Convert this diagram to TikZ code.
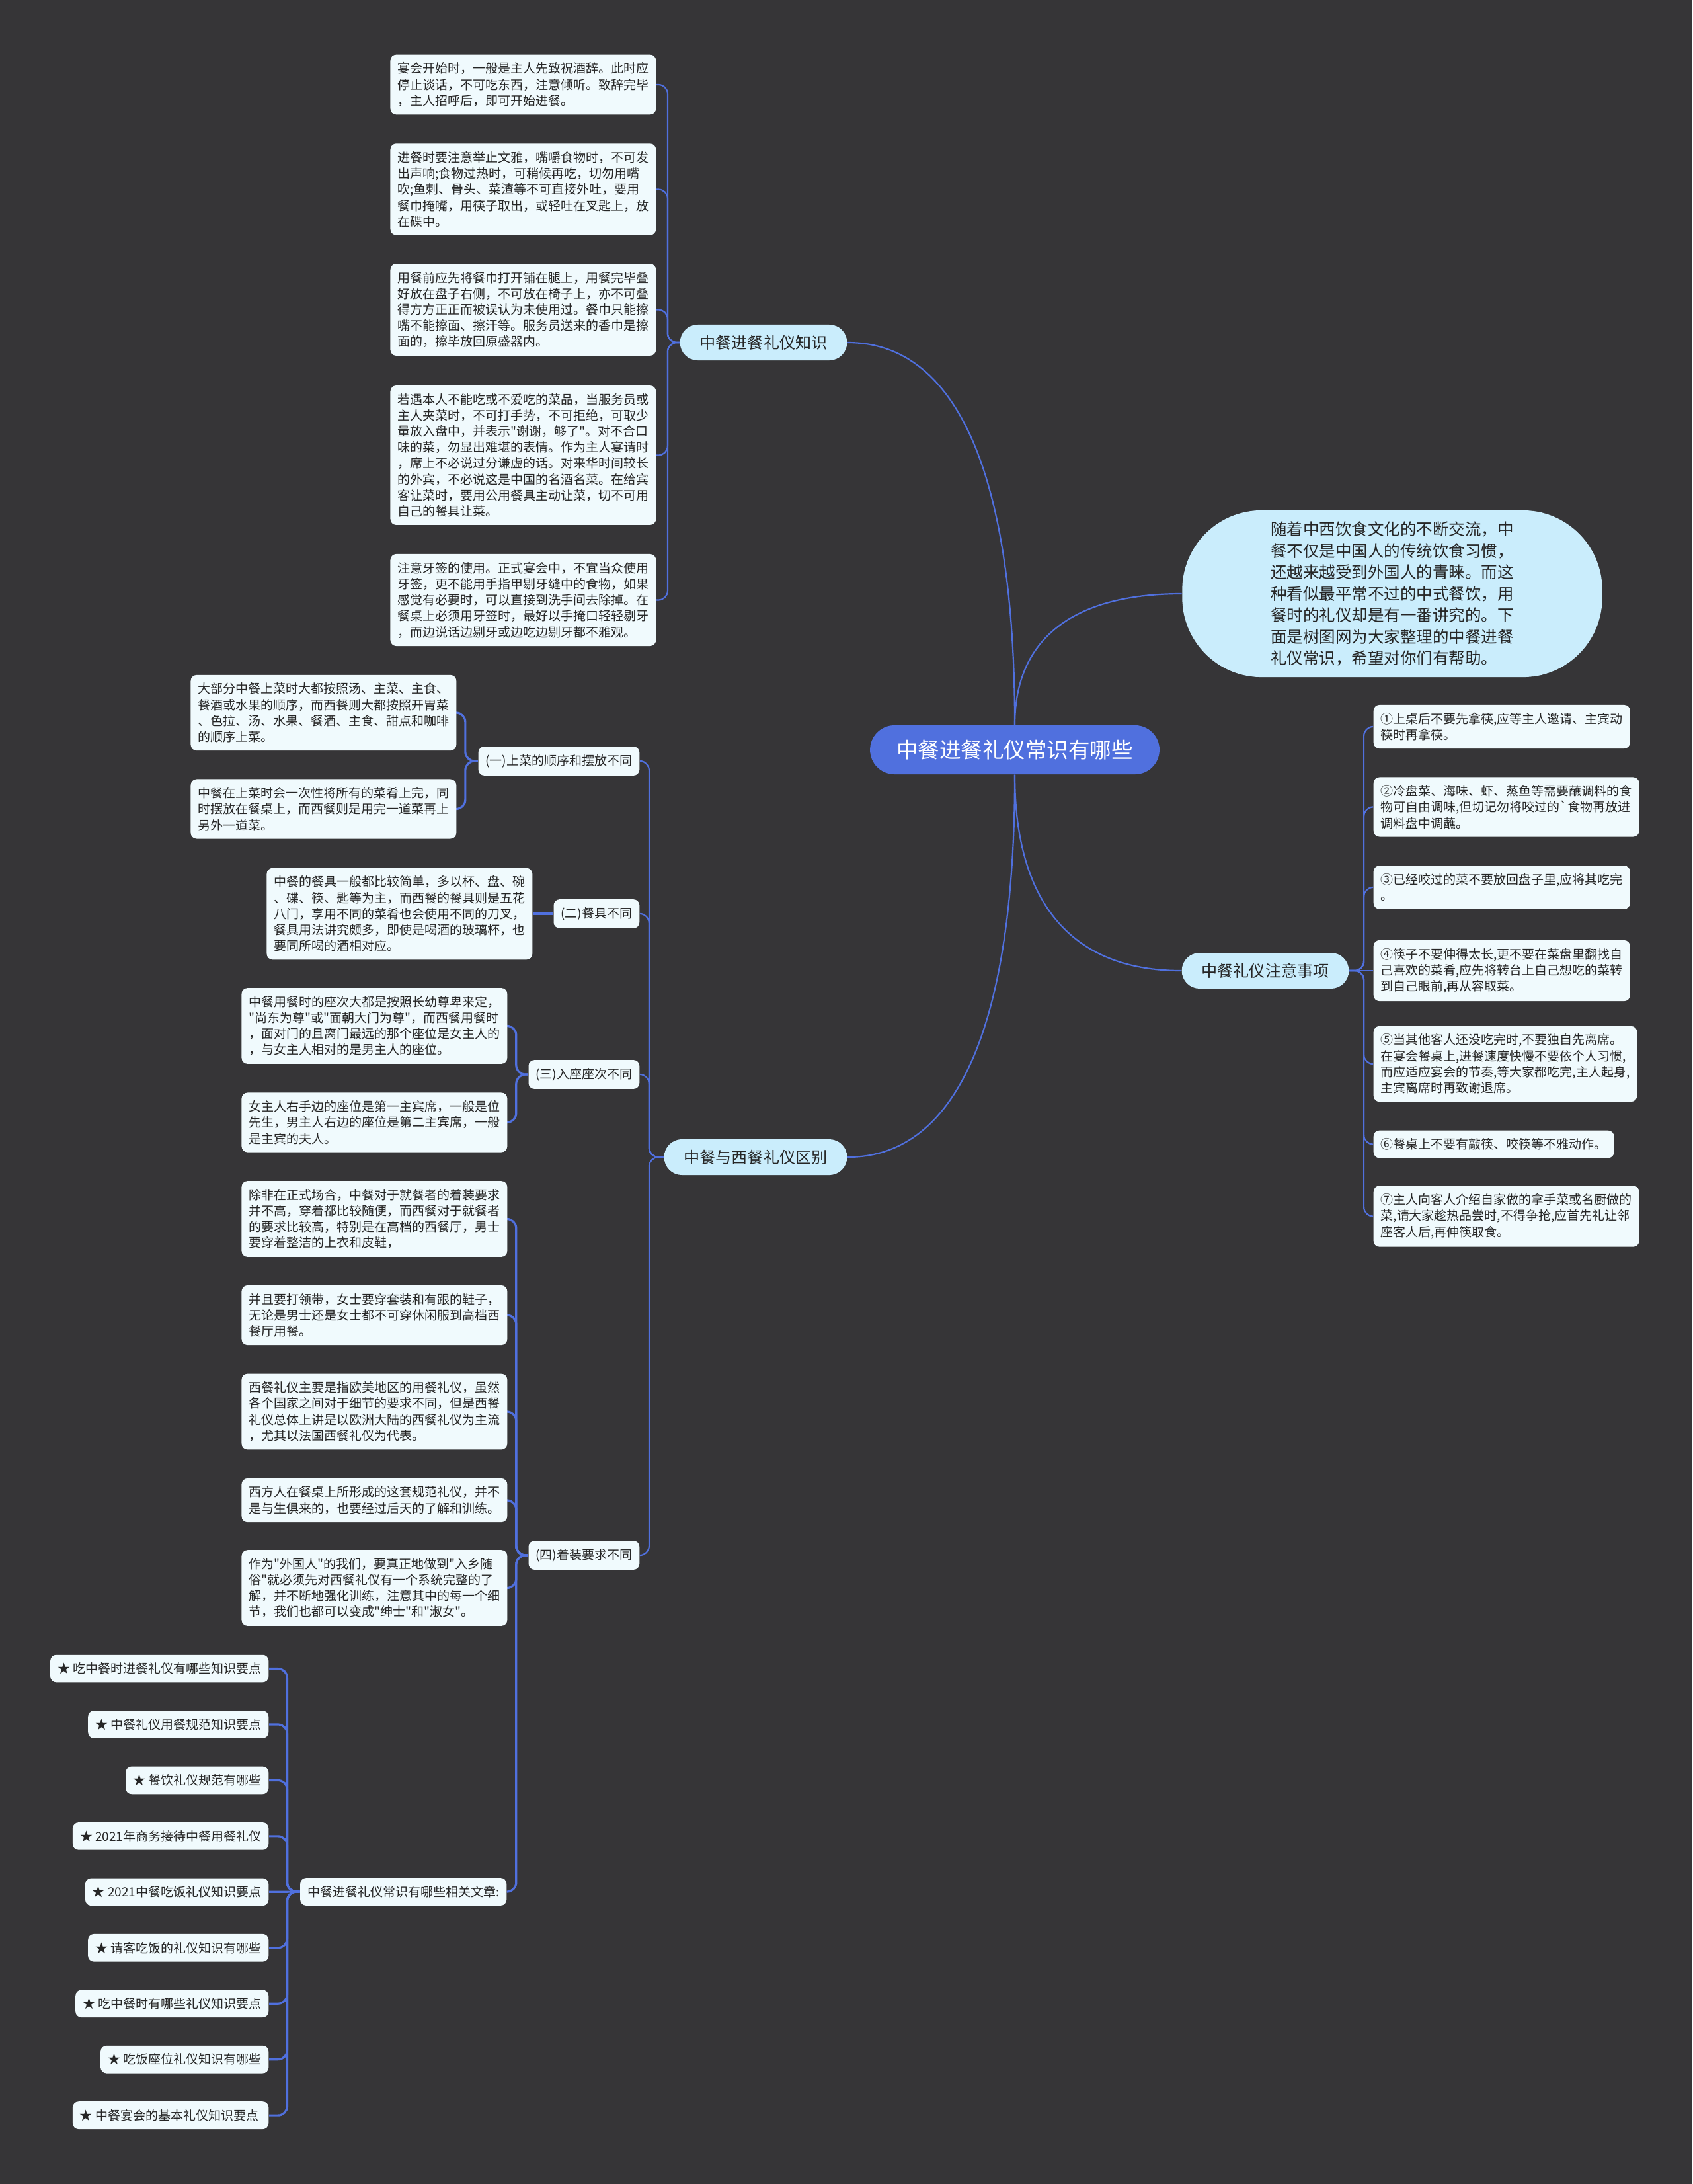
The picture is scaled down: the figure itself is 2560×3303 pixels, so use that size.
\documentclass[tikz,border=0pt]{standalone}
\usepackage{fontspec}
\setmainfont{Noto Sans CJK SC}[Ligatures=TeXOff]
\usetikzlibrary{backgrounds}
\definecolor{bgdark}{RGB}{54,53,55}
\definecolor{linkblue}{RGB}{80,112,222}
\definecolor{topicfill}{RGB}{202,237,252}
\definecolor{leaffill}{RGB}{240,250,253}
\definecolor{inkdark}{RGB}{38,38,38}

\begin{document}
\begin{tikzpicture}[x=0.01cm, y=-0.01cm,
        root/.style={fill=linkblue, text=white, rounded corners=0.37cm, minimum height=0.74cm, inner xsep=0.4cm, font=\fontsize{9.25}{11}\selectfont},
        topic/.style={fill=topicfill, text=inkdark, rounded corners=0.27cm, minimum height=0.54cm, inner xsep=0.3cm, font=\fontsize{6.85}{8}\selectfont},
        bubble/.style={fill=topicfill, text=inkdark, rounded corners=1.2cm, minimum width=6.35cm, minimum height=2.52cm, align=left, font=\fontsize{6.97}{9.25}\selectfont},
        leaf/.style={fill=leaffill, text=inkdark, rounded corners=0.09cm, inner xsep=0.11cm, inner ysep=0.12cm, align=left, font=\fontsize{5.4}{6.88}\selectfont},
        link/.style={draw=linkblue, line width=0.022cm, rounded corners=0.14cm},
        sublink/.style={link, line width=0.032cm},
    ]
    \useasboundingbox (0,0) rectangle (2560,3303);

    % Centre and main topics
    \node[root] (root) at (1535,1134) {中餐进餐礼仪常识有哪些};
    \node[bubble] (intro) at (2106,898) {随着中西饮食文化的不断交流，中\\餐不仅是中国人的传统饮食习惯，\\还越来越受到外国人的青睐。而这\\种看似最平常不过的中式餐饮，用\\餐时的礼仪却是有一番讲究的。下\\面是树图网为大家整理的中餐进餐\\礼仪常识，希望对你们有帮助。};
    \node[topic] (b1) at (1155,518) {中餐进餐礼仪知识};
    \node[topic] (b2) at (1143,1750) {中餐与西餐礼仪区别};
    \node[topic] (b3) at (1914,1468) {中餐礼仪注意事项};

    % Knowledge (left, top)
    \node[leaf, anchor=east] (k1) at (993,128) {宴会开始时，一般是主人先致祝酒辞。此时应\\停止谈话，不可吃东西，注意倾听。致辞完毕\\，主人招呼后，即可开始进餐。};
    \node[leaf, anchor=east] (k2) at (993,286.5) {进餐时要注意举止文雅，嘴嚼食物时，不可发\\出声响;食物过热时，可稍候再吃，切勿用嘴\\吹;鱼刺、骨头、菜渣等不可直接外吐，要用\\餐巾掩嘴，用筷子取出，或轻吐在叉匙上，放\\在碟中。};
    \node[leaf, anchor=east] (k3) at (993,468.5) {用餐前应先将餐巾打开铺在腿上，用餐完毕叠\\好放在盘子右侧，不可放在椅子上，亦不可叠\\得方方正正而被误认为未使用过。餐巾只能擦\\嘴不能擦面、擦汗等。服务员送来的香巾是擦\\面的，擦毕放回原盛器内。};
    \node[leaf, anchor=east] (k4) at (993,688.5) {若遇本人不能吃或不爱吃的菜品，当服务员或\\主人夹菜时，不可打手势，不可拒绝，可取少\\量放入盘中，并表示"谢谢，够了"。对不合口\\味的菜，勿显出难堪的表情。作为主人宴请时\\，席上不必说过分谦虚的话。对来华时间较长\\的外宾，不必说这是中国的名酒名菜。在给宾\\客让菜时，要用公用餐具主动让菜，切不可用\\自己的餐具让菜。};
    \node[leaf, anchor=east] (k5) at (993,907.5) {注意牙签的使用。正式宴会中，不宜当众使用\\牙签，更不能用手指甲剔牙缝中的食物，如果\\感觉有必要时，可以直接到洗手间去除掉。在\\餐桌上必须用牙签时，最好以手掩口轻轻剔牙\\，而边说话边剔牙或边吃边剔牙都不雅观。};

    % Notes (right)
    \node[leaf, anchor=west] (n1) at (2077,1099) {①上桌后不要先拿筷,应等主人邀请、主宾动\\筷时再拿筷。};
    \node[leaf, anchor=west] (n2) at (2077,1220.5) {②冷盘菜、海味、虾、蒸鱼等需要蘸调料的食\\物可自由调味,但切记勿将咬过的`食物再放进\\调料盘中调蘸。};
    \node[leaf, anchor=west] (n3) at (2077,1342) {③已经咬过的菜不要放回盘子里,应将其吃完\\。};
    \node[leaf, anchor=west] (n4) at (2077,1468) {④筷子不要伸得太长,更不要在菜盘里翻找自\\己喜欢的菜肴,应先将转台上自己想吃的菜转\\到自己眼前,再从容取菜。};
    \node[leaf, anchor=west] (n5) at (2077,1609) {⑤当其他客人还没吃完时,不要独自先离席。\\在宴会餐桌上,进餐速度快慢不要依个人习惯,\\而应适应宴会的节奏,等大家都吃完,主人起身,\\主宾离席时再致谢退席。};
    \node[leaf, anchor=west] (n6) at (2077,1730.5) {⑥餐桌上不要有敲筷、咬筷等不雅动作。};
    \node[leaf, anchor=west] (n7) at (2077,1839.5) {⑦主人向客人介绍自家做的拿手菜或名厨做的\\菜,请大家趁热品尝时,不得争抢,应首先礼让邻\\座客人后,再伸筷取食。};

    % Differences (left, bottom)
    \node[leaf, anchor=east] (d1) at (968,1151) {(一)上菜的顺序和摆放不同};
    \node[leaf, anchor=east] (d2) at (968,1382) {(二)餐具不同};
    \node[leaf, anchor=east] (d3) at (968,1625) {(三)入座座次不同};
    \node[leaf, anchor=east] (d4) at (968,2352) {(四)着装要求不同};

    \node[leaf, anchor=east] (d1a) at (691,1078) {大部分中餐上菜时大都按照汤、主菜、主食、\\餐酒或水果的顺序，而西餐则大都按照开胃菜\\、色拉、汤、水果、餐酒、主食、甜点和咖啡\\的顺序上菜。};
    \node[leaf, anchor=east] (d1b) at (691,1223.5) {中餐在上菜时会一次性将所有的菜肴上完，同\\时摆放在餐桌上，而西餐则是用完一道菜再上\\另外一道菜。};
    \node[leaf, anchor=east] (d2a) at (806,1382) {中餐的餐具一般都比较简单，多以杯、盘、碗\\、碟、筷、匙等为主，而西餐的餐具则是五花\\八门，享用不同的菜肴也会使用不同的刀叉，\\餐具用法讲究颇多，即使是喝酒的玻璃杯，也\\要同所喝的酒相对应。};
    \node[leaf, anchor=east] (d3a) at (768,1551.5) {中餐用餐时的座次大都是按照长幼尊卑来定，\\"尚东为尊"或"面朝大门为尊"，而西餐用餐时\\，面对门的且离门最远的那个座位是女主人的\\，与女主人相对的是男主人的座位。};
    \node[leaf, anchor=east] (d3b) at (768,1697.5) {女主人右手边的座位是第一主宾席，一般是位\\先生，男主人右边的座位是第二主宾席，一般\\是主宾的夫人。};
    \node[leaf, anchor=east] (d4a) at (768,1843.5) {除非在正式场合，中餐对于就餐者的着装要求\\并不高，穿着都比较随便，而西餐对于就餐者\\的要求比较高，特别是在高档的西餐厅，男士\\要穿着整洁的上衣和皮鞋，};
    \node[leaf, anchor=east] (d4b) at (768,1989) {并且要打领带，女士要穿套装和有跟的鞋子，\\无论是男士还是女士都不可穿休闲服到高档西\\餐厅用餐。};
    \node[leaf, anchor=east] (d4c) at (768,2135) {西餐礼仪主要是指欧美地区的用餐礼仪，虽然\\各个国家之间对于细节的要求不同，但是西餐\\礼仪总体上讲是以欧洲大陆的西餐礼仪为主流\\，尤其以法国西餐礼仪为代表。};
    \node[leaf, anchor=east] (d4d) at (768,2269) {西方人在餐桌上所形成的这套规范礼仪，并不\\是与生俱来的，也要经过后天的了解和训练。};
    \node[leaf, anchor=east] (d4e) at (768,2401.5) {作为"外国人"的我们，要真正地做到"入乡随\\俗"就必须先对西餐礼仪有一个系统完整的了\\解，并不断地强化训练，注意其中的每一个细\\节，我们也都可以变成"绅士"和"淑女"。};
    \node[leaf, anchor=east] (rel) at (767,2861) {中餐进餐礼仪常识有哪些相关文章:};

    % Related articles
    \foreach \i/\t in {
        1/吃中餐时进餐礼仪有哪些知识要点,
        2/中餐礼仪用餐规范知识要点,
        3/餐饮礼仪规范有哪些,
        4/2021年商务接待中餐用餐礼仪,
        5/2021中餐吃饭礼仪知识要点,
        6/请客吃饭的礼仪知识有哪些,
        7/吃中餐时有哪些礼仪知识要点,
        8/吃饭座位礼仪知识有哪些,
        9/中餐宴会的基本礼仪知识要点
    } {
        \node[leaf, anchor=east] (star\i) at (407,{2523.5+84.45*(\i-1)}) {★ \t};
    }

    \begin{scope}[on background layer]
        \fill[bgdark] (0,0) rectangle (2560,3303);

        % Main curves
        \draw[link] (root.north) .. controls +(0,-380) and +(165,0) .. (b1.east);
        \draw[link] (root.north) .. controls +(0,-130) and +(-165,0) .. (intro.west);
        \draw[link] (root.south) .. controls +(0,195) and +(-165,0) .. (b3.west);
        \draw[link] (root.south) .. controls +(0,380) and +(165,0) .. (b2.east);

        % Brackets
        \foreach \c in {k1,k2,k3,k4,k5}
            \draw[link] (b1.west) -- ++(-18,0) |- (\c.east);
        \foreach \c in {n1,n2,n3,n5,n6,n7}
            \draw[link] (b3.east) -- ++(22,0) |- (\c.west);
        \draw[link] (b3.east) -- (n4.west);
        \foreach \c in {d1,d2,d3,d4}
            \draw[link] (b2.west) -- ++(-22,0) |- (\c.east);

        \foreach \c in {d1a,d1b}
            \draw[sublink] (d1.west) -- ++(-19,0) |- (\c.east);
        \draw[sublink] (d2.west) -- (d2a.east);
        \foreach \c in {d3a,d3b}
            \draw[sublink] (d3.west) -- ++(-18,0) |- (\c.east);
        \foreach \c in {d4a,d4b,d4c,d4d,d4e,rel}
            \draw[sublink] (d4.west) -- ++(-18,0) |- (\c.east);

        \foreach \c in {1,2,3,4,6,7,8,9}
            \draw[sublink] (rel.west) -- ++(-19,0) |- (star\c.east);
        \draw[sublink] (rel.west) -- (star5.east);
    \end{scope}
\end{tikzpicture}
\end{document}
